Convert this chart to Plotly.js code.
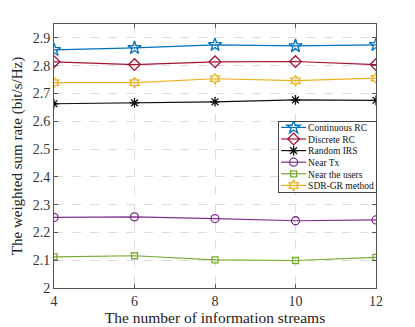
<!DOCTYPE html>
<html>
<head>
<meta charset="utf-8">
<script src="https://cdn.plot.ly/plotly-3.0.1.min.js"></script>
<style>
  body { margin: 0; background: #fff; }
  #chart { width: 415px; height: 327px; }
</style>
</head>
<body>
<div id="chart"></div>
<script>
// number of information streams
var streams = [4, 6, 8, 10, 12];

// weighted sum rate (bit/s/Hz)
var continuousRC = [2.857, 2.864, 2.875, 2.871, 2.875];
var discreteRC   = [2.814, 2.804, 2.814, 2.815, 2.804];
var randomIRS    = [2.663, 2.666, 2.670, 2.677, 2.675];
var nearTx       = [2.254, 2.256, 2.250, 2.242, 2.245];
var nearUsers    = [2.112, 2.116, 2.101, 2.099, 2.110];
var sdrGR        = [2.739, 2.739, 2.753, 2.746, 2.755];

var yTicks = [2, 2.1, 2.2, 2.3, 2.4, 2.5, 2.6, 2.7, 2.8, 2.9];

function series(name, ys, color, symbol, size) {
    return {
        type: 'scatter',
        mode: 'lines+markers',
        name: name,
        x: streams,
        y: ys,
        line: {color: color, width: 1.2},
        marker: {symbol: symbol, size: size, color: color,
                 line: {color: color, width: 1.3}}
    };
}

var data = [
    series('Continuous RC', continuousRC, '#0072BD', 'star-open', 10),
    series('Discrete RC', discreteRC, '#A2142F', 'diamond-open', 9),
    series('Random IRS', randomIRS, '#111111', 'asterisk-open', 8),
    series('Near Tx', nearTx, '#7E2F8E', 'circle-open', 8),
    series('Near the users', nearUsers, '#77AC30', 'square-open', 6),
    series('SDR-GR method', sdrGR, '#EDB120', 'hexagram-open', 8)
];

var axisCommon = {
    showline: true, mirror: 'ticks', linecolor: '#555', linewidth: 1,
    ticks: 'inside', ticklen: 4, tickcolor: '#555',
    showgrid: true, gridcolor: '#dcdcdc', griddash: 'dash', gridwidth: 1,
    zeroline: false,
    tickfont: {family: 'Liberation Serif', size: 14, color: '#333'}
};

var layout = {
    width: 415, height: 327,
    margin: {l: 54, r: 39, t: 24, b: 39},
    paper_bgcolor: '#fff', plot_bgcolor: '#fff',
    font: {family: 'Liberation Serif', color: '#222'},
    xaxis: Object.assign({}, axisCommon, {
        range: [4, 12], tickvals: streams,
        title: {text: 'The number of information streams', standoff: 3,
                font: {family: 'Liberation Serif', size: 15.5, color: '#222'}}
    }),
    yaxis: Object.assign({}, axisCommon, {
        range: [2, 2.95], tickvals: yTicks, ticktext: yTicks.map(String),
        title: {text: 'The weighted sum rate (bit/s/Hz)', standoff: 6,
                font: {family: 'Liberation Serif', size: 15, color: '#222'}}
    }),
    legend: {
        x: 0.696, xanchor: 'left', y: 0.633, yanchor: 'top',
        bgcolor: '#fff', bordercolor: '#444', borderwidth: 1,
        font: {family: 'Liberation Serif', size: 9.5, color: '#111'},
        tracegroupgap: 0, itemwidth: 30
    },
    showlegend: true
};

Plotly.newPlot('chart', data, layout, {displayModeBar: false, staticPlot: true}).then(function (gd) {
    // squeeze the legend rows and samples together, like the compact MATLAB legend
    var rowGap = 11.6, top = 6.5, textX = 29, maxW = 0;
    var items = gd.querySelectorAll('.legend .traces');
    items.forEach(function (el, i) {
        el.setAttribute('transform', 'translate(1,' + (top + i * rowGap) + ')');
        el.querySelectorAll('.legendlines path').forEach(function (p) {
            p.setAttribute('d', 'M2,0h25');
        });
        el.querySelectorAll('.legendpoints path').forEach(function (p) {
            p.setAttribute('transform', 'translate(14.5,0)');
        });
        var t = el.querySelector('text.legendtext');
        if (t) {
            t.setAttribute('x', textX);
            maxW = Math.max(maxW, t.getBBox().width);
        }
    });
    var bg = gd.querySelector('.legend rect.bg');
    if (bg) {
        bg.setAttribute('height', 2 * top + (items.length - 1) * rowGap);
        bg.setAttribute('width', textX + maxW + 3);
    }
});
</script>
</body>
</html>
